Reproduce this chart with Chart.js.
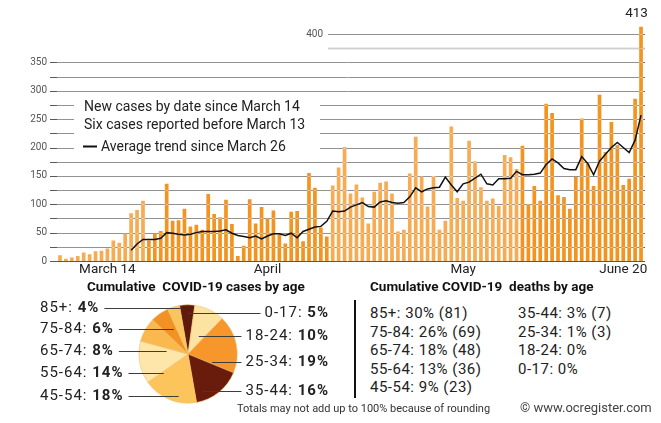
<!DOCTYPE html>
<html>
<head>
<meta charset="utf-8">
<script src="https://cdn.jsdelivr.net/npm/chart.js@4.4.0/dist/chart.umd.min.js"></script>
<style>
  html, body { margin: 0; padding: 0; background: #fff; }
  body { width: 661px; height: 423px; position: relative; overflow: hidden; font-family: Roboto, sans-serif; color: #222; }
  canvas { position: absolute; left: 0; }
  #casesChart { top: 0; }
  #ageChart { top: 295px; }
  .t { position: absolute; white-space: pre; line-height: 1; }
  .title { font-weight: bold; font-size: 13.5px; color: #111; }
  .deaths { font-size: 15px; letter-spacing: 0.5px; line-height: 18.5px; color: #222; }
  .sep { position: absolute; left: 354px; top: 300px; width: 2px; height: 98px; background: #111; }
</style>
</head>
<body>
<canvas id="casesChart" width="661" height="285"></canvas>
<canvas id="ageChart" width="345" height="128"></canvas>

<div class="t title" style="left:87px; top:280px;">Cumulative  COVID-19 cases by age</div>
<div class="t title" style="left:370px; top:280px;">Cumulative COVID-19  deaths by age</div>
<div class="sep"></div>
<div class="t deaths" id="deathsLeft" style="left:370px; top:304px;"></div>
<div class="t deaths" id="deathsRight" style="left:518px; top:304px;"></div>
<div class="t" style="left:237px; top:403px; font-size:11px; color:#333;">Totals may not add up to 100% because of rounding</div>
<div class="t" style="left:520px; top:401px; font-size:13px; color:#444;">© www.ocregister.com</div>

<script>
// ---- données : nouveaux cas par jour (14 mars -> 20 juin) ----
const days = [
  '3/14','3/15','3/16','3/17','3/18','3/19','3/20','3/21','3/22','3/23','3/24','3/25','3/26','3/27','3/28','3/29','3/30','3/31',
  '4/1','4/2','4/3','4/4','4/5','4/6','4/7','4/8','4/9','4/10','4/11','4/12','4/13','4/14','4/15','4/16','4/17','4/18','4/19','4/20',
  '4/21','4/22','4/23','4/24','4/25','4/26','4/27','4/28','4/29','4/30',
  '5/1','5/2','5/3','5/4','5/5','5/6','5/7','5/8','5/9','5/10','5/11','5/12','5/13','5/14','5/15','5/16','5/17','5/18','5/19','5/20',
  '5/21','5/22','5/23','5/24','5/25','5/26','5/27','5/28','5/29','5/30','5/31',
  '6/1','6/2','6/3','6/4','6/5','6/6','6/7','6/8','6/9','6/10','6/11','6/12','6/13','6/14','6/15','6/16','6/17','6/18','6/19','6/20'
];

const newCases = [
  10, 4, 6, 9, 15, 12, 17, 18, 22, 36, 32, 48, 84, 90, 106,
  36, 48, 53, 136, 71, 72, 92, 61, 64, 55, 118, 83, 77, 108, 65, 9, 27,
  109, 66, 95, 75, 89, 47, 31, 87, 88, 35, 155, 129, 59, 43, 133, 165, 201,
  119, 135, 112, 66, 122, 138, 140, 119, 52, 55, 154, 219, 149, 96, 150,
  55, 71, 237, 111, 106, 212, 176, 130, 106, 110, 97, 187, 183, 162,
  203, 100, 132, 106, 277, 261, 116, 113, 92, 148, 251, 172, 132, 293, 192, 245, 204, 134, 145, 286, 413
];

// moyenne de tendance, depuis le 26 mars
const trendStart = 12;
const trendValues = [
  19, 30, 38, 38, 38, 40, 50, 49, 47, 46,
  47, 50, 52, 52, 52, 53, 55, 49, 45, 43,
  41, 44, 39, 44, 48, 48, 45, 49, 41, 52,
  56, 60, 61, 70, 88, 87, 88, 95, 99, 103,
  96, 95, 104, 106, 103, 102, 103, 113, 129, 122,
  127, 129, 130, 148, 134, 122, 136, 139, 146, 153,
  136, 134, 145, 145, 146, 158, 152, 152, 153, 155,
  170, 180, 173, 163, 161, 161, 184, 172, 152, 176,
  188, 200, 209, 200, 191, 213, 257
];

// changements de teinte des barres (index du premier jour de chaque bloc)
const shadeBreaks = [15, 46, 78];

const yTickValues = [0, 50, 100, 150, 200, 250, 300, 350];
const tickIndex = [8, 35, 68, 95];
const tickLabels = ['March 14', 'April', 'May', 'June 20'];

// ---- données : cas et décès cumulés par âge ----
const ageGroups = ['0-17', '18-24', '25-34', '35-44', '45-54', '55-64', '65-74', '75-84', '85+'];
const casePct = [5, 10, 19, 16, 18, 14, 8, 6, 4];

const deathAges = ['85+', '75-84', '65-74', '55-64', '45-54', '35-44', '25-34', '18-24', '0-17'];
const deathPct = [30, 26, 18, 13, 9, 3, 1, 0, 0];
const deathCount = [81, 69, 48, 36, 23, 7, 3, null, null];

// ---- styles ----
const LIGHT = '#f7ab52';
const DARK = '#f39320';
const pieColors = ['#5e1a0b', '#fde3a2', '#f7962b', '#6a1c0c', '#fcc45a', '#fee6aa', '#fab94f', '#f29224', '#fbc55d'];
const labelSide = ['R', 'R', 'R', 'R', 'L', 'L', 'L', 'L', 'L'];
const labelY = [313, 336, 362, 391, 396, 373, 351, 329, 308];
const AGE_TOP = 295;

Chart.defaults.font.family = 'Roboto, sans-serif';

const trend = Array(trendStart).fill(null).concat(trendValues);
const barColors = newCases.map((v, i) => {
  let block = 0;
  shadeBreaks.forEach(b => { if (i >= b) block++; });
  return block % 2 === 0 ? LIGHT : DARK;
});

/**
 * Grille, légende et annotations du graphique des cas
 */
const casesDecor = {
  id: 'casesDecor',
  beforeDatasetsDraw(chart) {
    const { ctx, scales: { y }, chartArea } = chart;
    const left = 50, right = chartArea.right + 1;
    ctx.save();
    for (let v = 0; v <= 400; v += 25) {
      const py = Math.round(y.getPixelForValue(v)) + 0.5;
      let segs = [[left, right]];
      if (v > 350) segs = [[328, right]];
      else if (v >= 200 && v <= 275) segs = [[left, 74], [320, right]];
      ctx.strokeStyle = v === 375 ? '#b4b4b4' : '#585858';
      ctx.lineWidth = v === 375 ? 1.6 : 1;
      segs.forEach(s => {
        ctx.beginPath();
        ctx.moveTo(s[0], py);
        ctx.lineTo(s[1], py);
        ctx.stroke();
      });
    }
    ctx.restore();
  },
  afterDatasetDraw(chart, args) {
    if (args.meta.type !== 'bar') return;
    const { ctx, scales: { y }, chartArea } = chart;
    ctx.save();
    ctx.strokeStyle = 'rgba(255,255,255,0.35)';
    ctx.lineWidth = 1;
    for (let v = 25; v <= 400; v += 25) {
      const py = Math.round(y.getPixelForValue(v)) + 0.5;
      ctx.beginPath();
      ctx.moveTo(chartArea.left, py);
      ctx.lineTo(chartArea.right, py);
      ctx.stroke();
    }
    ctx.restore();
  },
  afterDraw(chart) {
    const { ctx, scales: { y } } = chart;
    ctx.save();
    ctx.textBaseline = 'middle';
    ctx.fillStyle = '#222';
    ctx.font = '14px Roboto';
    ctx.fillText('New cases by date since March 14', 84, 107);
    ctx.fillText('Six cases reported before March 13', 84, 125);
    ctx.fillText('Average trend since March 26', 101, 147);
    ctx.strokeStyle = '#111';
    ctx.lineWidth = 2;
    ctx.beginPath();
    ctx.moveTo(83, 146.5);
    ctx.lineTo(97, 146.5);
    ctx.stroke();

    // étiquette 400 décalée
    ctx.font = '10px Roboto';
    ctx.fillStyle = '#555';
    ctx.textAlign = 'right';
    ctx.fillText('400', 323, y.getPixelForValue(400));

    // valeur du dernier jour
    const bars = chart.getDatasetMeta(1).data;
    const last = bars[bars.length - 1];
    ctx.font = '13.5px Roboto';
    ctx.fillStyle = '#222';
    ctx.textAlign = 'center';
    ctx.fillText(String(newCases[newCases.length - 1]), last.x - 4.5, last.y - 13);
    ctx.restore();
  }
};

new Chart(document.getElementById('casesChart'), {
  type: 'bar',
  data: {
    labels: days,
    datasets: [
      {
        type: 'line',
        data: trend,
        borderColor: '#111',
        borderWidth: 1.5,
        pointRadius: 0,
        tension: 0,
        spanGaps: false,
        order: 0
      },
      {
        type: 'bar',
        data: newCases,
        backgroundColor: barColors,
        barPercentage: 0.62,
        categoryPercentage: 1,
        order: 1
      }
    ]
  },
  options: {
    responsive: false,
    animation: false,
    devicePixelRatio: 1,
    layout: { padding: { top: 22.7, right: 17, bottom: 4, left: 0 } },
    plugins: { legend: { display: false }, tooltip: { enabled: false } },
    scales: {
      x: {
        grid: { display: false, drawTicks: false },
        border: { display: false },
        afterFit: s => { s.height = 20; },
        ticks: {
          autoSkip: false,
          maxRotation: 0,
          padding: 1,
          color: '#222',
          font: { size: 13.5 },
          callback: (val, idx) => {
            const k = tickIndex.indexOf(idx);
            return k >= 0 ? tickLabels[k] : '';
          }
        }
      },
      y: {
        min: 0,
        max: 420,
        grid: { display: false, drawTicks: false },
        border: { display: false },
        afterFit: s => { s.width = 57; },
        ticks: {
          stepSize: 50,
          includeBounds: false,
          padding: 10,
          color: '#555',
          font: { size: 10 },
          callback: v => yTickValues.includes(v) ? v : ''
        }
      }
    }
  },
  plugins: [casesDecor]
});

/**
 * Étiquettes et traits de rappel du camembert
 */
const pieLabels = {
  id: 'pieLabels',
  afterDatasetsDraw(chart) {
    const ctx = chart.ctx;
    const arcs = chart.getDatasetMeta(0).data;
    const REG = '15px Roboto', BOLD = 'bold 15px Roboto';
    ctx.save();
    ctx.textBaseline = 'middle';
    ctx.fillStyle = '#222';
    ctx.strokeStyle = '#3c3c3c';
    ctx.lineWidth = 1;
    ctx.letterSpacing = '1px';
    ageGroups.forEach((age, i) => {
      const y = labelY[i] - AGE_TOP;
      const name = age + ': ';
      const pct = casePct[i] + '%';
      ctx.font = REG;
      const wName = ctx.measureText(name).width;
      ctx.font = BOLD;
      const wPct = ctx.measureText(pct).width;
      const tip = arcs[i].tooltipPosition();
      let x0, x1;
      if (labelSide[i] === 'L') {
        ctx.textAlign = 'left';
        ctx.font = REG;
        ctx.fillText(name, 40, y);
        ctx.font = BOLD;
        ctx.fillText(pct, 40 + wName, y);
        x0 = 40 + wName + wPct + 5;
        x1 = tip.x;
      } else {
        const right = 329;
        ctx.textAlign = 'right';
        ctx.font = BOLD;
        ctx.fillText(pct, right, y);
        ctx.font = REG;
        ctx.fillText(name, right - wPct, y);
        x0 = tip.x;
        x1 = right - wPct - wName - 4;
      }
      const ly = Math.round(y) + 0.5;
      ctx.beginPath();
      ctx.moveTo(x0, ly);
      ctx.lineTo(x1, ly);
      ctx.stroke();
    });
    ctx.restore();
  }
};

new Chart(document.getElementById('ageChart'), {
  type: 'pie',
  data: {
    labels: ageGroups,
    datasets: [{
      data: casePct,
      backgroundColor: pieColors,
      borderColor: 'rgba(238,190,110,0.9)',
      borderWidth: 0.6
    }]
  },
  options: {
    responsive: false,
    animation: false,
    devicePixelRatio: 1,
    rotation: -10,
    layout: { padding: { left: 138.5, right: 107.5, top: 9.5, bottom: 19.5 } },
    plugins: { legend: { display: false }, tooltip: { enabled: false } }
  },
  plugins: [pieLabels]
});

// ---- texte des décès ----
const deathLine = i => deathAges[i] + ': ' + deathPct[i] + '%' + (deathCount[i] !== null ? ' (' + deathCount[i] + ')' : '');
document.getElementById('deathsLeft').textContent = [0, 1, 2, 3, 4].map(deathLine).join('\n');
document.getElementById('deathsRight').textContent = [5, 6, 7, 8].map(deathLine).join('\n');
</script>
</body>
</html>
